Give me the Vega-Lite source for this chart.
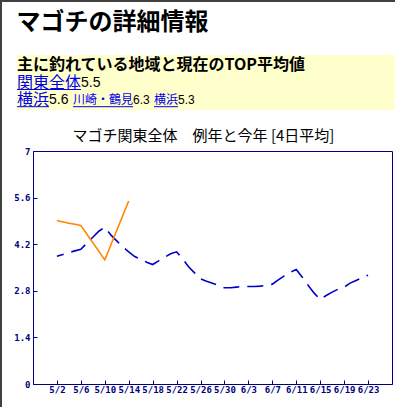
{
  "$schema": "https://vega.github.io/schema/vega-lite/v6.json",
  "padding": 0,
  "background": "white",
  "config": {"view": {"stroke": null}, "font": "Noto Sans CJK JP"},
  "spacing": 0,
  "hconcat": [
    {
      "width": 2, "height": 407,
      "data": {"values": [{}]},
      "mark": {"type": "rect", "color": "#404040"}
    },
    {
      "spacing": 9,
      "vconcat": [
        {
          "width": 393, "height": 2,
          "data": {"values": [{}]},
          "mark": {"type": "rect", "color": "#404040"}
        },
        {
          "spacing": 10,
          "hconcat": [
            {
              "width": 1, "height": 1,
              "data": {"values": [{}]},
              "mark": {"type": "rect", "color": "white"}
            },
            {
              "spacing": 18,
              "vconcat": [
                {
                  "width": 362, "height": 55,
                  "title": {"text": "マゴチの詳細情報", "anchor": "start", "fontSize": 24, "fontWeight": "bold", "font": "Noto Sans CJK JP", "color": "black", "offset": 20},
                  "data": {"values": [
                    {"level": "見出し", "label": "主に釣れている地域と現在のTOP平均値", "col": 0},
                    {"level": "全体", "label": "関東全体", "avg": 5.5, "rank": 0, "col": 0, "vcol": 4},
                    {"level": "地点", "label": "横浜", "avg": 5.6, "rank": 1, "col": 0, "vcol": 2},
                    {"level": "地点", "label": "川崎・鶴見", "avg": 6.3, "rank": 2, "col": 3.5, "vcol": 7.25},
                    {"level": "地点", "label": "横浜", "avg": 5.3, "rank": 3, "col": 8.5625, "vcol": 10.0625}
                  ]},
                  "encoding": {
                    "x": {"field": "col", "type": "quantitative", "scale": {"domain": [1, 23.625], "nice": false, "zero": false}, "axis": null}
                  },
                  "layer": [
                    {
                      "transform": [{"filter": "datum.level == '見出し'"}],
                      "mark": {"type": "rect", "color": "#ffffcc"},
                      "encoding": {"x": {"datum": 0}, "x2": {"datum": 23.625}}
                    },
                    {
                      "transform": [{"filter": "datum.level == '見出し'"}],
                      "mark": {"type": "text", "align": "left", "baseline": "middle", "fontSize": 16, "fontWeight": "bold", "color": "black", "font": "Noto Sans CJK JP"},
                      "encoding": {
                        "y": {"field": "level", "type": "ordinal", "scale": {"type": "point", "domain": ["見出し", "全体", "地点"], "padding": 0.6}, "axis": null},
                        "text": {"field": "label", "type": "nominal"}
                      }
                    },
                    {
                      "transform": [{"filter": "datum.rank <= 1"}],
                      "mark": {"type": "text", "align": "left", "baseline": "middle", "fontSize": 16, "color": "#0000ee", "font": "Noto Sans CJK JP"},
                      "encoding": {
                        "y": {"field": "level", "type": "ordinal"},
                        "text": {"field": "label", "type": "nominal"}
                      }
                    },
                    {
                      "transform": [{"filter": "datum.rank >= 2"}],
                      "mark": {"type": "text", "align": "left", "baseline": "middle", "fontSize": 12, "color": "#0000ee", "font": "Noto Sans CJK JP"},
                      "encoding": {
                        "y": {"field": "level", "type": "ordinal"},
                        "text": {"field": "label", "type": "nominal"}
                      }
                    },
                    {
                      "transform": [{"filter": "datum.rank <= 1"}],
                      "mark": {"type": "text", "align": "left", "baseline": "middle", "fontSize": 14, "color": "black", "font": "Liberation Sans"},
                      "encoding": {
                        "x": {"field": "vcol", "type": "quantitative"},
                        "y": {"field": "level", "type": "ordinal"},
                        "text": {"field": "avg", "type": "nominal"}
                      }
                    },
                    {
                      "transform": [{"filter": "datum.rank >= 2"}],
                      "mark": {"type": "text", "align": "left", "baseline": "middle", "fontSize": 12, "color": "black", "font": "Liberation Sans"},
                      "encoding": {
                        "x": {"field": "vcol", "type": "quantitative"},
                        "y": {"field": "level", "type": "ordinal"},
                        "text": {"field": "avg", "type": "nominal"}
                      }
                    },
                    {
                      "transform": [{"filter": "datum.rank >= 0"}],
                      "mark": {"type": "rule", "color": "#0000ee", "strokeWidth": 1, "yOffset": 7},
                      "encoding": {
                        "y": {"field": "level", "type": "ordinal"},
                        "x2": {"field": "vcol"}
                      }
                    }
                  ]
                },
                {
                  "hconcat": [
                    {
                      "width": 359, "height": 233,
                      "view": {"stroke": "#000080", "strokeWidth": 1},
                      "title": {"text": "マゴチ関東全体　例年と今年 [4日平均]", "fontSize": 15, "fontWeight": "normal", "font": "Noto Sans CJK JP", "color": "black", "offset": 3, "dx": -9},
                      "data": {"values": [
                        {"date": "2010-05-02", "series": "例年", "v": 3.84},
                        {"date": "2010-05-03", "series": "例年", "v": 3.89},
                        {"date": "2010-05-04", "series": "例年", "v": 3.95},
                        {"date": "2010-05-05", "series": "例年", "v": 4.00},
                        {"date": "2010-05-06", "series": "例年", "v": 4.05},
                        {"date": "2010-05-07", "series": "例年", "v": 4.23},
                        {"date": "2010-05-08", "series": "例年", "v": 4.41},
                        {"date": "2010-05-09", "series": "例年", "v": 4.59},
                        {"date": "2010-05-10", "series": "例年", "v": 4.71},
                        {"date": "2010-05-11", "series": "例年", "v": 4.48},
                        {"date": "2010-05-12", "series": "例年", "v": 4.30},
                        {"date": "2010-05-13", "series": "例年", "v": 4.12},
                        {"date": "2010-05-14", "series": "例年", "v": 3.97},
                        {"date": "2010-05-15", "series": "例年", "v": 3.83},
                        {"date": "2010-05-16", "series": "例年", "v": 3.75},
                        {"date": "2010-05-17", "series": "例年", "v": 3.66},
                        {"date": "2010-05-18", "series": "例年", "v": 3.59},
                        {"date": "2010-05-19", "series": "例年", "v": 3.70},
                        {"date": "2010-05-20", "series": "例年", "v": 3.81},
                        {"date": "2010-05-21", "series": "例年", "v": 3.91},
                        {"date": "2010-05-22", "series": "例年", "v": 3.97},
                        {"date": "2010-05-23", "series": "例年", "v": 3.76},
                        {"date": "2010-05-24", "series": "例年", "v": 3.52},
                        {"date": "2010-05-25", "series": "例年", "v": 3.34},
                        {"date": "2010-05-26", "series": "例年", "v": 3.16},
                        {"date": "2010-05-27", "series": "例年", "v": 3.09},
                        {"date": "2010-05-28", "series": "例年", "v": 3.03},
                        {"date": "2010-05-29", "series": "例年", "v": 2.96},
                        {"date": "2010-05-30", "series": "例年", "v": 2.89},
                        {"date": "2010-05-31", "series": "例年", "v": 2.89},
                        {"date": "2010-06-01", "series": "例年", "v": 2.91},
                        {"date": "2010-06-02", "series": "例年", "v": 2.93},
                        {"date": "2010-06-03", "series": "例年", "v": 2.93},
                        {"date": "2010-06-04", "series": "例年", "v": 2.93},
                        {"date": "2010-06-05", "series": "例年", "v": 2.94},
                        {"date": "2010-06-06", "series": "例年", "v": 2.96},
                        {"date": "2010-06-07", "series": "例年", "v": 3.00},
                        {"date": "2010-06-08", "series": "例年", "v": 3.13},
                        {"date": "2010-06-09", "series": "例年", "v": 3.25},
                        {"date": "2010-06-10", "series": "例年", "v": 3.36},
                        {"date": "2010-06-11", "series": "例年", "v": 3.44},
                        {"date": "2010-06-12", "series": "例年", "v": 3.21},
                        {"date": "2010-06-13", "series": "例年", "v": 2.96},
                        {"date": "2010-06-14", "series": "例年", "v": 2.73},
                        {"date": "2010-06-15", "series": "例年", "v": 2.54},
                        {"date": "2010-06-16", "series": "例年", "v": 2.66},
                        {"date": "2010-06-17", "series": "例年", "v": 2.76},
                        {"date": "2010-06-18", "series": "例年", "v": 2.85},
                        {"date": "2010-06-19", "series": "例年", "v": 2.91},
                        {"date": "2010-06-20", "series": "例年", "v": 3.03},
                        {"date": "2010-06-21", "series": "例年", "v": 3.11},
                        {"date": "2010-06-22", "series": "例年", "v": 3.19},
                        {"date": "2010-06-23", "series": "例年", "v": 3.27},
                        {"date": "2010-05-02", "series": "今年", "v": 4.91},
                        {"date": "2010-05-03", "series": "今年", "v": 4.87},
                        {"date": "2010-05-04", "series": "今年", "v": 4.83},
                        {"date": "2010-05-05", "series": "今年", "v": 4.80},
                        {"date": "2010-05-06", "series": "今年", "v": 4.76},
                        {"date": "2010-05-10", "series": "今年", "v": 3.73},
                        {"date": "2010-05-14", "series": "今年", "v": 5.50}
                      ]},
                      "mark": {"type": "line", "strokeWidth": 1.6, "strokeDashOffset": 9},
                      "encoding": {
                        "x": {
                          "field": "date", "type": "temporal",
                          "scale": {"type": "utc", "domain": [{"year": 2010, "month": 4, "date": 28, "utc": true}, {"year": 2010, "month": 6, "date": 27, "utc": true}], "nice": false},
                          "axis": {
                            "values": [
                              {"year": 2010, "month": 5, "date": 2, "utc": true},
                              {"year": 2010, "month": 5, "date": 6, "utc": true},
                              {"year": 2010, "month": 5, "date": 10, "utc": true},
                              {"year": 2010, "month": 5, "date": 14, "utc": true},
                              {"year": 2010, "month": 5, "date": 18, "utc": true},
                              {"year": 2010, "month": 5, "date": 22, "utc": true},
                              {"year": 2010, "month": 5, "date": 26, "utc": true},
                              {"year": 2010, "month": 5, "date": 30, "utc": true},
                              {"year": 2010, "month": 6, "date": 3, "utc": true},
                              {"year": 2010, "month": 6, "date": 7, "utc": true},
                              {"year": 2010, "month": 6, "date": 11, "utc": true},
                              {"year": 2010, "month": 6, "date": 15, "utc": true},
                              {"year": 2010, "month": 6, "date": 19, "utc": true},
                              {"year": 2010, "month": 6, "date": 23, "utc": true}
                            ],
                            "labelExpr": "utcFormat(datum.value, '%-m/%-d')",
                            "title": null, "grid": false, "labelAngle": 0, "labelFlush": false, "labelOverlap": false,
                            "labelFont": "DejaVu Sans Mono", "labelFontWeight": "bold", "labelFontSize": 9, "labelColor": "#000080",
                            "domainColor": "#000080", "tickColor": "#000080", "tickSize": -4, "labelPadding": 5
                          }
                        },
                        "y": {
                          "field": "v", "type": "quantitative",
                          "scale": {"domain": [0, 7], "nice": false},
                          "axis": {
                            "values": [0, 1.4, 2.8, 4.2, 5.6, 7], "format": ".1~f",
                            "title": null, "grid": false,
                            "labelFont": "DejaVu Sans Mono", "labelFontWeight": "bold", "labelFontSize": 9, "labelColor": "#000080",
                            "domainColor": "#000080", "tickColor": "#000080", "tickSize": -4, "labelPadding": 7,
                            "minExtent": 16, "maxExtent": 16
                          }
                        },
                        "color": {"field": "series", "type": "nominal", "scale": {"domain": ["例年", "今年"], "range": ["#0000cc", "#ff8800"]}, "legend": null},
                        "strokeDash": {"field": "series", "type": "nominal", "scale": {"domain": ["例年", "今年"], "range": [[16, 8], [1, 0]]}, "legend": null}
                      }
                    }
                  ]
                }
              ]
            }
          ]
        }
      ]
    }
  ]
}
